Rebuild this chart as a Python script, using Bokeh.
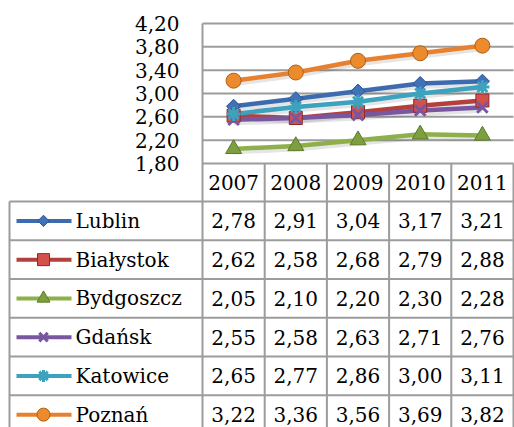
import math
from bokeh.plotting import figure
from bokeh.models import Range1d
from bokeh.core.properties import value
from bokeh.embed import file_html
from bokeh.resources import INLINE

# ---------------- data ----------------
years = ["2007", "2008", "2009", "2010", "2011"]
cities = ["Lublin", "Białystok", "Bydgoszcz", "Gdańsk", "Katowice", "Poznań"]
lublin = [2.78, 2.91, 3.04, 3.17, 3.21]
bialystok = [2.62, 2.58, 2.68, 2.79, 2.88]
bydgoszcz = [2.05, 2.10, 2.20, 2.30, 2.28]
gdansk = [2.55, 2.58, 2.63, 2.71, 2.76]
katowice = [2.65, 2.77, 2.86, 3.00, 3.11]
poznan = [3.22, 3.36, 3.56, 3.69, 3.82]
y_ticks = [1.8, 2.2, 2.6, 3.0, 3.4, 3.8, 4.2]

series = [lublin, bialystok, bydgoszcz, gdansk, katowice, poznan]

# ---------------- styles ----------------
line_colors = ["#3D6BB0", "#B3403D", "#8DB04B", "#7857A0", "#3CA2BE", "#E8812F"]
marker_fill = ["#3F72B8", "#D4504D", "#7E9F40", "#7857A0", "#3CA2BE", "#EC8A2E"]
marker_edge = ["#2B5590", "#8A2A28", "#5C7A2A", "#7857A0", "#3CA2BE", "#B0600F"]
markers = ["square", "square", "triangle", "x", "asterisk", "circle"]
marker_angle = [math.pi / 4, 0, 0, 0, 0, 0]
chart_sizes = [10, 13, 16, 15, 14, 15]
legend_sizes = [8, 12, 13, 12, 12, 13]

FONT = "DejaVu Serif"
FS = "20px"
GRAY = "#9C9C9C"
W, H = 514, 427

# layout (pixels of the reference picture)
PAGE_L, PAGE_T = 0, 0
PLOT_L, PLOT_R = 202, 513
PLOT_T, PLOT_B = 23, 163
TABLE_T = 201
TABLE_L = 9
RH = 38.75
COLW = (PLOT_R - PLOT_L) / len(years)


def px(p):
    return -0.5 + (p - PLOT_L) / COLW


def py(p):
    return (p - TABLE_T) / RH


VSCALE = (y_ticks[-1] - y_ticks[0]) / (PLOT_B - PLOT_T)


def pv(p):
    return y_ticks[-1] - (p - PLOT_T) * VSCALE


p = figure(width=W, height=H, output_backend="svg", toolbar_location=None,
           x_range=Range1d(px(PAGE_L), px(PAGE_L + W)),
           y_range=Range1d(py(PAGE_T + H), py(PAGE_T)),
           x_axis_location=None, y_axis_location=None,
           min_border_left=0, min_border_right=0, min_border_top=0, min_border_bottom=0)
p.extra_y_ranges = {"val": Range1d(pv(PAGE_T + H), pv(PAGE_T))}
p.outline_line_color = None
p.grid.visible = False
p.background_fill_color = "white"
p.border_fill_color = "white"

nY = len(years)
nC = len(cities)
xs = list(range(nY))
BOTTOM = PAGE_T + H + 20

# gridlines of the chart
p.segment(x0=[-0.5] * len(y_ticks), x1=[nY - 0.5] * len(y_ticks), y0=y_ticks, y1=y_ticks,
          line_color=GRAY, line_width=2, y_range_name="val")
# plot left border (runs down through the table)
p.segment(x0=[-0.5], x1=[-0.5], y0=[y_ticks[-1]], y1=[pv(BOTTOM)],
          line_color=GRAY, line_width=2, y_range_name="val")
# column separators of header row + table
cols = [i + 0.5 for i in range(nY)]
p.segment(x0=cols, x1=cols, y0=[py(PLOT_B)] * nY, y1=[py(BOTTOM)] * nY,
          line_color=GRAY, line_width=2)
# table left border
p.segment(x0=[px(TABLE_L)], x1=[px(TABLE_L)], y0=[0], y1=[py(BOTTOM)],
          line_color=GRAY, line_width=2)
# table horizontal lines
p.segment(x0=[px(TABLE_L)] * (nC + 1), x1=[nY - 0.5] * (nC + 1),
          y0=list(range(nC + 1)), y1=list(range(nC + 1)),
          line_color=GRAY, line_width=2)

# y tick labels
p.text(x=[px(179)] * len(y_ticks), y=y_ticks,
       text=[f"{t:.2f}".replace(".", ",") for t in y_ticks],
       text_font=value(FONT), text_font_size=FS, text_align="right",
       text_baseline="middle", text_color="black", y_range_name="val")
# header years
p.text(x=xs, y=[py((PLOT_B + TABLE_T) / 2)] * nY, text=years,
       text_font=value(FONT), text_font_size=FS, text_align="center",
       text_baseline="middle", text_color="black")

# soft shadows under the series lines
SH = 3 * VSCALE
for vals in series:
    p.line(x=xs, y=[v - SH for v in vals], line_color="black", line_alpha=0.10,
           line_width=5, y_range_name="val")

# series lines + markers
for vals, lc in zip(series, line_colors):
    p.line(x=xs, y=vals, line_color=lc, line_width=4.5, y_range_name="val")
for vals, mk, fc, ec, sz, an in zip(series, markers, marker_fill, marker_edge,
                                    chart_sizes, marker_angle):
    if mk in ("x", "asterisk"):
        p.scatter(x=xs, y=vals, marker=mk, size=sz, line_color=fc, line_width=3,
                  y_range_name="val")
    else:
        p.scatter(x=xs, y=vals, marker=mk, size=sz, angle=an, fill_color=fc,
                  line_color=ec, line_width=1, y_range_name="val")

# legend keys in table
rows_c = [i + 0.5 for i in range(nC)]
p.segment(x0=[px(16)] * nC, x1=[px(71)] * nC, y0=rows_c, y1=rows_c,
          line_color=line_colors, line_width=4)
for i, (mk, fc, ec, sz, an) in enumerate(zip(markers, marker_fill, marker_edge,
                                             legend_sizes, marker_angle)):
    if mk in ("x", "asterisk"):
        p.scatter(x=[px(43)], y=[rows_c[i]], marker=mk, size=sz, line_color=fc, line_width=3)
    else:
        p.scatter(x=[px(43)], y=[rows_c[i]], marker=mk, size=sz, angle=an,
                  fill_color=fc, line_color=ec, line_width=1)

p.text(x=[px(75)] * nC, y=rows_c, text=cities, text_font=value(FONT),
       text_font_size=FS, text_align="left", text_baseline="middle", text_color="black")

cx, cy, ct = [], [], []
for i, vals in enumerate(series):
    for j, v in enumerate(vals):
        cx.append(j)
        cy.append(i + 0.5)
        ct.append(f"{v:.2f}".replace(".", ","))
p.text(x=cx, y=cy, text=ct, text_font=value(FONT), text_font_size=FS,
       text_align="center", text_baseline="middle", text_color="black")

open("out.html", "w").write(file_html(p, INLINE))
